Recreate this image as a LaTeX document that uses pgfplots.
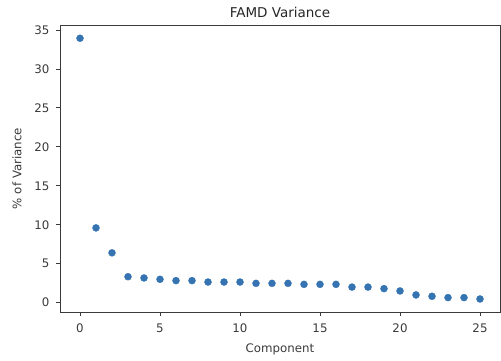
\documentclass[border=0pt]{standalone}
\usepackage{pgfplots}
\pgfplotsset{compat=1.18}
\usepackage{fontspec}
\setmainfont{DejaVu Sans}
\definecolor{tabblue}{HTML}{3573B1}
\definecolor{spine}{HTML}{3A3A3A}
\begin{document}
\begin{tikzpicture}[x=1pt,y=1pt]
\useasboundingbox (0,0) rectangle (501,360);
\begin{axis}[
  at={(60pt,48pt)}, anchor=south west,
  scale only axis, width=440pt, height=287pt,
  xmin=-1.25, xmax=26.25, ymin=-1.2, ymax=35.65,
  xtick={0,5,10,15,20,25}, ytick={0,5,10,15,20,25,30,35},
  tick align=outside, tick pos=left,
  major tick length=4pt,
  every tick/.style={spine, line width=0.9pt},
  axis line style={spine, line width=0.9pt},
  tick label style={font=\fontsize{11.8}{13}\selectfont, text=spine},
  xticklabel style={yshift=-4pt},
  yticklabel style={xshift=-3pt},
  /pgf/number format/assume math mode=true,
  title={FAMD Variance},
  title style={font=\fontsize{13.5}{15}\selectfont, text=black!85, yshift=-2pt},
  xlabel={Component}, ylabel={\% of Variance},
  label style={font=\fontsize{11.8}{13}\selectfont, text=spine},
  xlabel style={yshift=-4pt},
  ylabel style={yshift=6pt},
]
\addplot[only marks, mark=*, mark size=3.5pt, mark options={fill=tabblue, draw=tabblue}] coordinates {
(0,33.95) (1,9.6) (2,6.4) (3,3.33) (4,3.17) (5,3.0) (6,2.83) (7,2.83)
(8,2.65) (9,2.65) (10,2.65) (11,2.48) (12,2.48) (13,2.48) (14,2.35)
(15,2.35) (16,2.35) (17,2.0) (18,2.0) (19,1.8) (20,1.5) (21,0.99)
(22,0.82) (23,0.65) (24,0.65) (25,0.47)
};
\end{axis}
\end{tikzpicture}
\end{document}
